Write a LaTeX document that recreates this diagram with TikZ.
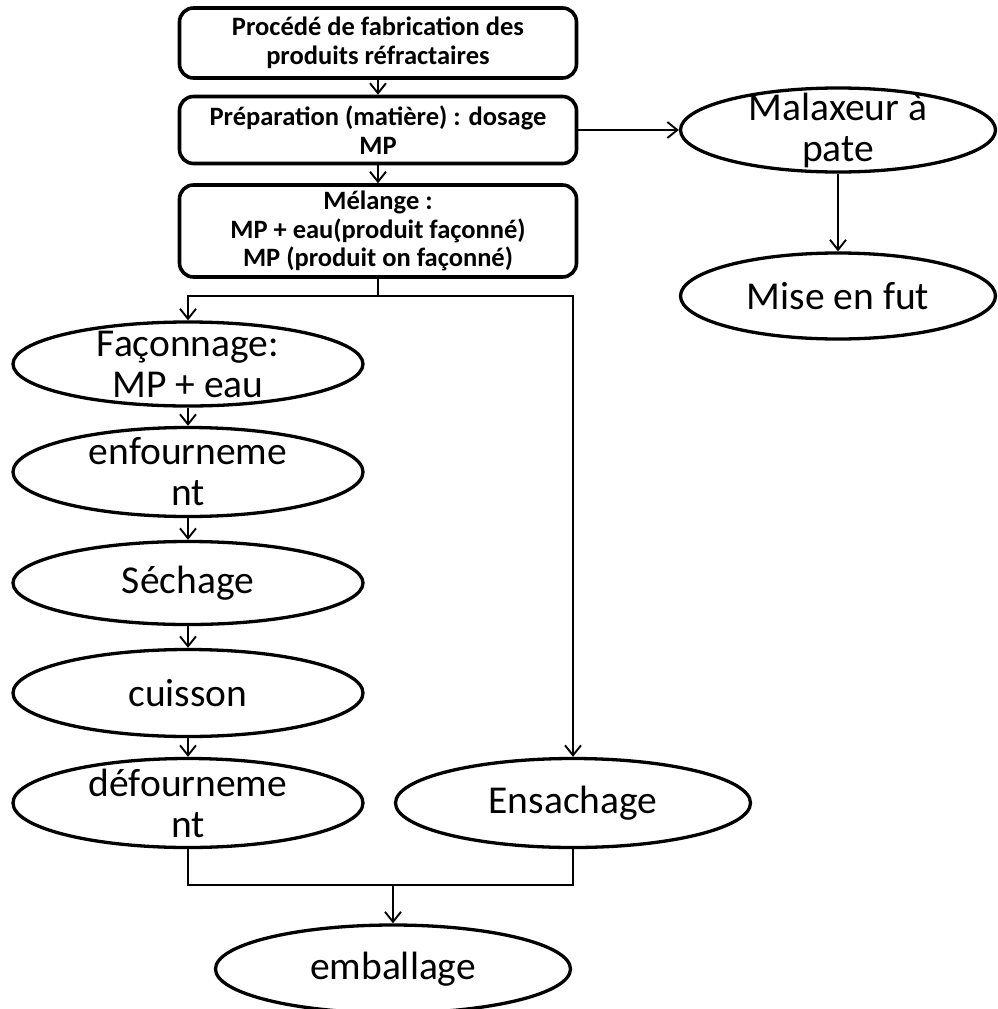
\documentclass[tikz,border=0pt]{standalone}
\usepackage{fontspec}
\setmainfont{Carlito}
\usetikzlibrary{arrows.meta, shapes.geometric}

\tikzset{
  stepbox/.style={draw, line width=3.6pt, rounded corners=14pt, minimum width=397pt,
    align=center, inner sep=0pt,
    font=\fontsize{26.5}{28.5}\selectfont\bfseries},
  oval/.style={draw, ellipse, line width=3.3pt, inner sep=0pt,
    minimum width=350pt, minimum height=#1},
  ovaltext/.style={align=center, font=\fontsize{39.5}{41}\selectfont},
  link/.style={line width=1.9pt},
  arr/.style={link, -{Straight Barb[length=10pt, width=16pt, line width=1.9pt]}},
}

\begin{document}
\begin{tikzpicture}[x=1pt, y=-1pt]
  \useasboundingbox (0,0) rectangle (997,1009);

  % main column of process steps
  \node[stepbox, minimum height=70pt] (n1) at (378,43)
    {Procédé de fabrication des\\produits réfractaires};
  \node[stepbox, minimum height=67pt] (n2) at (378,130)
    {Préparation (matière) : dosage\\MP};
  \node[stepbox, minimum height=92pt] (n3) at (378,231)
    {Mélange :\\MP + eau(produit façonné)\\MP (produit on façonné)};

  % paste branch
  \node[oval=84pt, minimum width=315pt,
        label={[ovaltext]center:Malaxeur à\\pate}] (mal) at (838,130) {};
  \node[oval=86pt, minimum width=315pt,
        label={[ovaltext]center:Mise en fut}] (fut) at (838,296) {};

  % shaped products
  \node[oval=84pt, label={[ovaltext]center:Façonnage:\\MP + eau}] (fac) at (188,364) {};
  \node[oval=89pt, label={[ovaltext]center:enfourneme\\nt}] (enf) at (188,472) {};
  \node[oval=83pt, label={[ovaltext]center:Séchage}] (sec) at (188,583) {};
  \node[oval=87pt, label={[ovaltext]center:cuisson}] (cui) at (188,693) {};
  \node[oval=89pt, label={[ovaltext]center:défourneme\\nt}] (def) at (188,803) {};

  % unshaped products
  \node[oval=89pt, minimum width=355pt, label={[ovaltext]center:Ensachage}] (ens) at (573,803) {};

  % final step
  \node[oval=88pt, minimum width=355pt, label={[ovaltext]center:emballage}] (emb) at (393,969) {};

  % connectors
  \draw[arr] (n1) -- (n2);
  \draw[arr] (n2) -- (n3);
  \draw[arr] (n2.east) -- (mal.west);
  \draw[arr] (mal) -- (fut);

  \coordinate (split) at (378,296);
  \draw[link] (n3.south) -- (split);
  \draw[arr] (split) -| (fac.north);
  \draw[arr] (split) -| (ens.north);

  \draw[arr] (fac) -- (enf);
  \draw[arr] (enf) -- (sec);
  \draw[arr] (sec) -- (cui);
  \draw[arr] (cui) -- (def);

  \coordinate (join) at (393,885);
  \draw[link] (def.south) |- (join);
  \draw[link] (ens.south) |- (join);
  \draw[arr] (join) -- (emb.north);
\end{tikzpicture}
\end{document}
